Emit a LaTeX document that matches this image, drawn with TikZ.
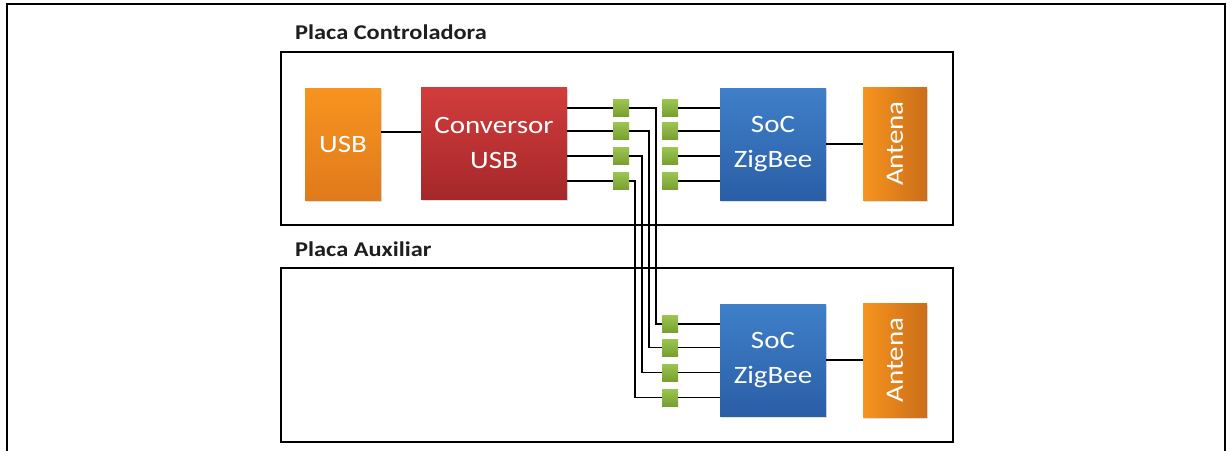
\documentclass[tikz,border=0pt]{standalone}
\usepackage{fontspec}
\setmainfont{Carlito}
\newfontfamily\cf[FakeStretch=1.16]{Carlito}
\usetikzlibrary{shadows}
\definecolor{usbtop}{HTML}{F7941F}
\definecolor{usbbot}{HTML}{E07A1C}
\definecolor{convtop}{HTML}{D33C3C}
\definecolor{convbot}{HTML}{A4282A}
\definecolor{soctop}{HTML}{3F80C9}
\definecolor{socbot}{HTML}{2A5EA6}
\definecolor{grtop}{HTML}{9CC450}
\definecolor{grbot}{HTML}{78A030}
\definecolor{labelc}{HTML}{1E1E1E}
\tikzset{
  board/.style={draw=black, line width=2.6pt, fill=white, inner sep=0},
  blockbox/.style={inner sep=0, drop shadow={shadow xshift=1pt, shadow yshift=-1.5pt, opacity=0.25}},
  orangebox/.style={blockbox, top color=usbtop, bottom color=usbbot},
  antbox/.style={blockbox, left color=usbtop, right color=usbbot!90!black},
  redbox/.style={blockbox, top color=convtop, bottom color=convbot},
  bluebox/.style={blockbox, top color=soctop, bottom color=socbot},
  pin/.style={inner sep=0, minimum width=16pt, minimum height=17pt, top color=grtop, bottom color=grbot},
  boxtext/.style={text=white, font=\cf\fontsize{25}{35}\selectfont, align=center, inner sep=0},
  boardlabel/.style={text=labelc, font=\cf\bfseries\fontsize{21}{24}\selectfont, inner sep=0, anchor=base west},
  wire/.style={draw=black, line width=1.8pt},
  frame/.style={draw=black, line width=2pt}
}
\begin{document}
\begin{tikzpicture}[x=1pt,y=-1pt]
\useasboundingbox (0,0) rectangle (1230,450);
\fill[white] (0,0) rectangle (1230,450);
% outer frame
\coordinate (f1) at (7,452);
\coordinate (f2) at (7,4);
\coordinate (f3) at (1225,4);
\coordinate (f4) at (1225,452);
\draw[frame] (f1) -- (f2) -- (f3) -- (f4);
% boards
\node[board, minimum width=672pt, minimum height=173pt] (ctrl) at (617,138.5) {};
\node[board, minimum width=672pt, minimum height=174pt] (aux) at (617,355) {};
\node[boardlabel] (lctrl) at (295,39) {Placa Controladora};
\node[boardlabel] (laux) at (295,256) {Placa Auxiliar};
% blocks
\node[orangebox, minimum width=76pt, minimum height=112pt] (usb) at (343,144) {};
\node[boxtext] (tusb) at (usb.center) {USB};
\node[redbox, minimum width=146pt, minimum height=112pt] (conv) at (494,143) {};
\node[boxtext] (tconv) at (conv.center) {Conversor\\USB};
\node[bluebox, minimum width=106pt, minimum height=112pt] (soc1) at (773,144) {};
\node[boxtext] (tsoc1) at (soc1.center) {SoC\\ZigBee};
\node[antbox, minimum width=64pt, minimum height=113pt] (ant1) at (895,143.5) {};
\node[boxtext, rotate=90] (tant1) at (ant1.center) {Antena};
\node[bluebox, minimum width=106pt, minimum height=112pt] (soc2) at (773,360) {};
\node[boxtext] (tsoc2) at (soc2.center) {SoC\\ZigBee};
\node[antbox, minimum width=64pt, minimum height=114pt] (ant2) at (895,360) {};
\node[boxtext, rotate=90] (tant2) at (ant2.center) {Antena};
% pins
\foreach \i/\y in {1/108,2/131,3/156,4/181}{
  \node[pin] (L\i) at (621,\y) {};
  \node[pin] (R\i) at (670,\y) {};
}
\foreach \i/\y in {1/324,2/347.5,3/372.5,4/397.5}{
  \node[pin] (B\i) at (670,\y) {};
}
% wires
\draw[wire] ([yshift=12pt]usb.east) -- ([yshift=12pt]usb.east -| conv.west);
\foreach \i in {1,2,3,4}{
  \draw[wire] (conv.east |- L\i) -- (L\i.west);
  \draw[wire] (R\i.east) -- (soc1.west |- R\i);
  \draw[wire] (B\i.east) -- (soc2.west |- B\i);
}
\draw[wire] (L1.east) -| ([xshift=-6pt]B1.west) -- (B1.west);
\draw[wire] (L2.east) -| ([xshift=-13pt]B2.west) -- (B2.west);
\draw[wire] (L3.east) -| ([xshift=-20pt]B3.west) -- (B3.west);
\draw[wire] (L4.east) -| ([xshift=-27pt]B4.west) -- (B4.west);
\draw[wire] (soc1.east) -- (soc1.east -| ant1.west);
\draw[wire] (soc2.east) -- (soc2.east -| ant2.west);
\end{tikzpicture}
\end{document}
